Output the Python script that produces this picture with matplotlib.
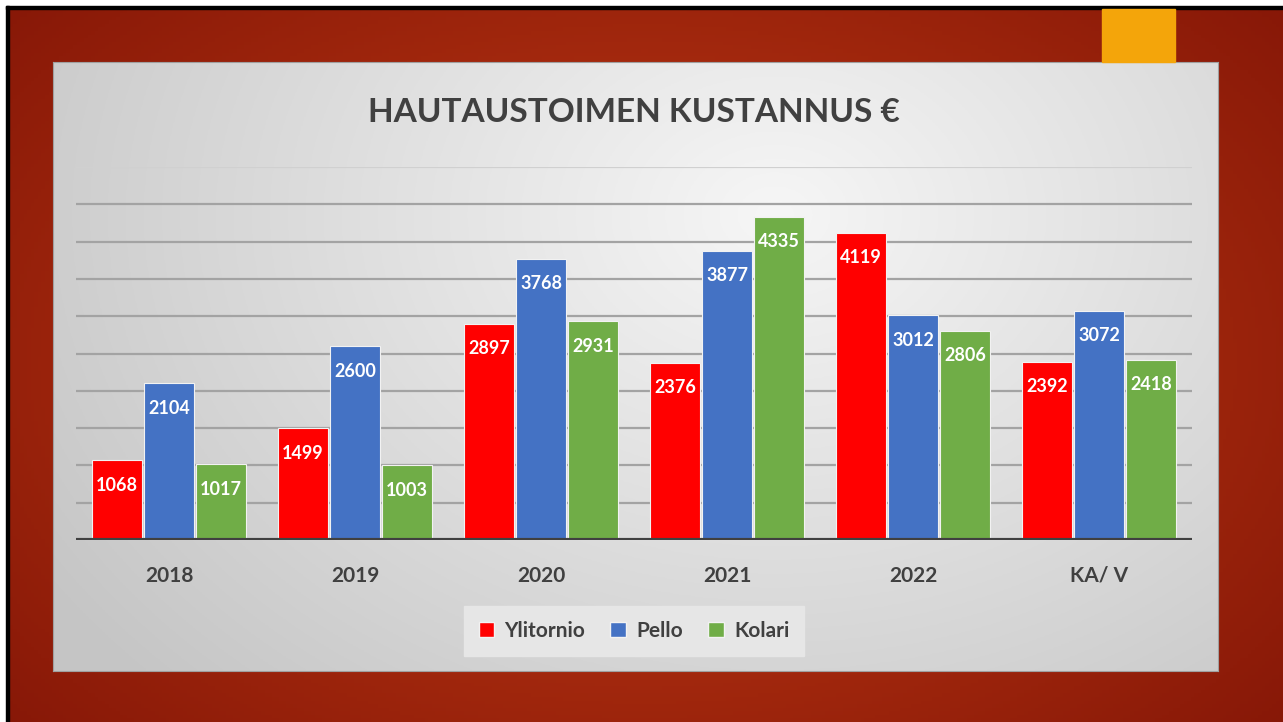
import numpy as np
import matplotlib
matplotlib.use('Agg')
import matplotlib.pyplot as plt
from matplotlib.patches import Rectangle, Patch

# data
categories = ['2018', '2019', '2020', '2021', '2022', 'KA/ V']
series_names = ['Ylitornio', 'Pello', 'Kolari']
ylitornio = [1068, 1499, 2897, 2376, 4119, 2392]
pello = [2104, 2600, 3768, 3877, 3012, 3072]
kolari = [1017, 1003, 2931, 4335, 2806, 2418]
colors = ['#ff0000', '#4472c4', '#70ad47']

W, H = 1283, 722
plt.rcParams['font.family'] = ['Lato', 'DejaVu Sans']

def box(x0, y0, x1, y1):
    # pixel box -> figure fraction rect
    return [x0 / W, 1 - y1 / H, (x1 - x0) / W, (y1 - y0) / H]

fig = plt.figure(figsize=(W / 100, H / 100), dpi=100)
fig.patch.set_facecolor('white')

# slide background (red gradient)
bg = fig.add_axes(box(6, 6, W, H))
yy, xx = np.mgrid[0:1:200j, 0:1:360j]
d = np.sqrt(((xx - 0.5) / 0.95) ** 2 + ((yy - 0.5) / 1.1) ** 2)
t = np.clip(d * 1.6 - 0.3, 0, 1)[..., None]
light = np.array([0.71, 0.20, 0.07])
dark = np.array([0.49, 0.07, 0.02])
bg.imshow(light * (1 - t) + dark * t, aspect='auto', extent=[0, 1, 0, 1])
bg.set_xlim(0, 1)
bg.set_ylim(0, 1)
bg.axis('off')

# black slide outline (left and top)
fig.patches.append(Rectangle((6 / W, 0), 3 / W, 1 - 6 / H, transform=fig.transFigure,
                             color='black', zorder=5))
fig.patches.append(Rectangle((6 / W, 1 - 9 / H), 1 - 6 / W, 3 / H, transform=fig.transFigure,
                             color='black', zorder=5))
# orange accent
fig.patches.append(Rectangle((1102 / W, 1 - 62 / H), 73 / W, 53 / H, transform=fig.transFigure,
                             color='#f4a50a', zorder=5))

# chart panel (grey radial gradient)
panel = fig.add_axes(box(53, 62, 1218, 671))
py, px = np.mgrid[0:1:200j, 0:1:400j]
r = np.sqrt(((px - 0.62) / 0.75) ** 2 + ((py - 0.25) / 1.1) ** 2)
r = np.clip(r, 0, 1)
g = 0.965 * (1 - r) + 0.775 * r
panel.imshow(np.dstack([g, g, g]), aspect='auto', extent=[0, 1, 0, 1])
panel.set_xlim(0, 1)
panel.set_ylim(0, 1)
for s in panel.spines.values():
    s.set_color('#a0a0a0')
    s.set_linewidth(0.8)
panel.set_xticks([])
panel.set_yticks([])

# bars
ax = fig.add_axes(box(76, 167, 1192, 540))
ax.patch.set_alpha(0)
x = np.arange(len(categories))
width = 0.27
offsets = [-0.28, 0, 0.28]
for vals, col, off, name in zip([ylitornio, pello, kolari], colors, offsets, series_names):
    ax.bar(x + off, vals, width, color=col, edgecolor='#f2f2f2', linewidth=0.8,
           zorder=3, label=name)
    for xi, v in zip(x + off, vals):
        ax.annotate(str(v), (xi, v), xytext=(0, -25), textcoords='offset pixels',
                    ha='center', va='center', color='white', fontsize=13,
                    fontweight='bold', zorder=4)

ax.set_xlim(-0.5, len(categories) - 0.5)
ax.set_ylim(0, 5000)
for v in range(500, 5001, 500):
    ax.axhline(v, color='#a3a3a3' if v < 5000 else '#d0d0d0', linewidth=1.6, zorder=1)
ax.axhline(0, color='#404040', linewidth=3, zorder=5)
for s in ax.spines.values():
    s.set_visible(False)
ax.set_xticks([])
ax.set_yticks([])

for xi, c in zip(x, categories):
    ax.annotate(c, (xi, 0), xytext=(0, -36), textcoords='offset pixels',
                ha='center', va='center', color='#404040', fontsize=15,
                fontweight='bold', annotation_clip=False)

# title
fig.text(634 / W, 1 - 112 / H, 'HAUTAUSTOIMEN KUSTANNUS €', ha='center', va='center',
         fontsize=24, fontweight='bold', color='#404040')

# legend
handles = [Patch(facecolor=c, edgecolor='#f2f2f2', label=n) for c, n in zip(colors, series_names)]
leg = fig.legend(handles=handles, loc='center', bbox_to_anchor=(634 / W, 1 - 631 / H), ncol=3,
                 frameon=True, fancybox=False, facecolor='#e6e6e6', edgecolor='#e6e6e6',
                 framealpha=1, handlelength=0.75, handleheight=0.75, handletextpad=0.5,
                 columnspacing=1.2, borderpad=0.7, prop={'size': 15, 'weight': 'bold'})
for txt in leg.get_texts():
    txt.set_color('#404040')

fig.savefig('out.png', dpi=100)
